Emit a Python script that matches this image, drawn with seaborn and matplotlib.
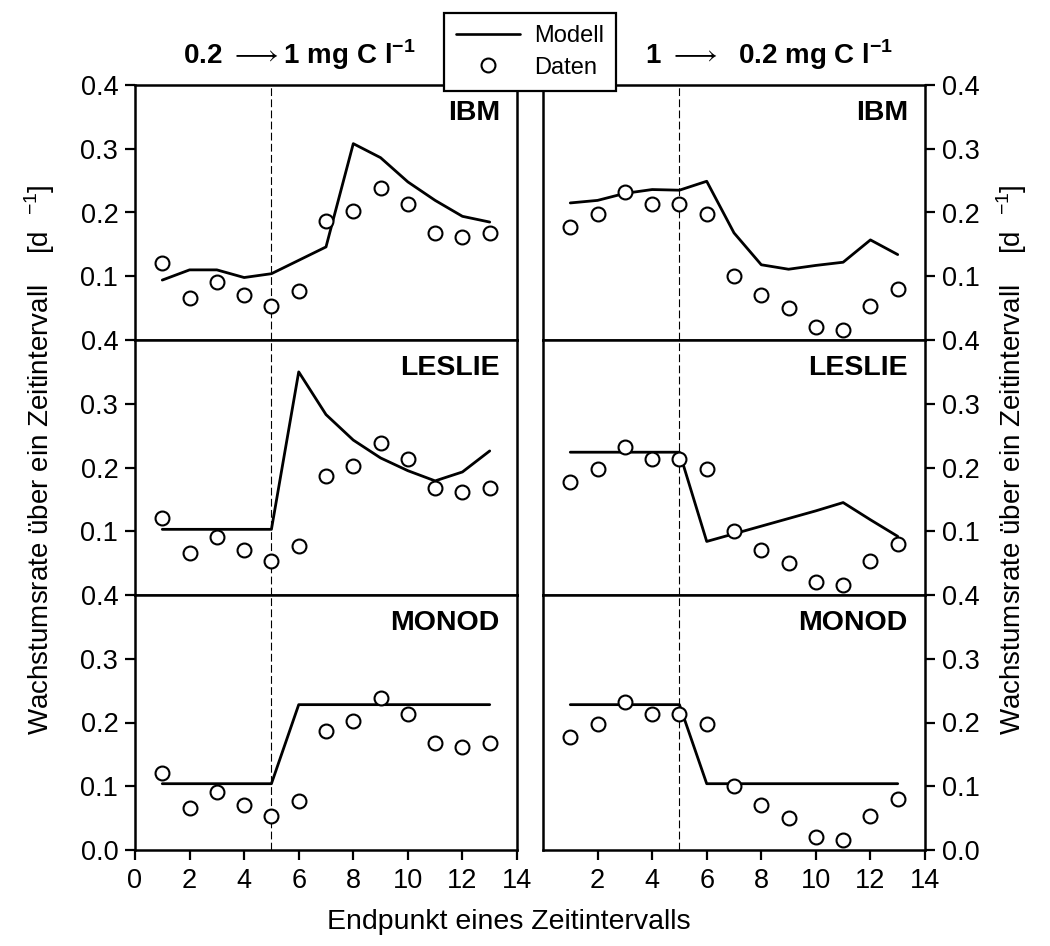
import pandas as pd
import matplotlib
matplotlib.use("Agg")
import matplotlib.pyplot as plt
import seaborn as sns
from matplotlib.lines import Line2D

# Zeitpunkte (Endpunkt eines Zeitintervalls)
t = list(range(1, 14))

# Messdaten
daten_links = [0.121, 0.066, 0.091, 0.070, 0.054, 0.077, 0.186, 0.203, 0.238, 0.214, 0.168, 0.162, 0.168]
daten_rechts = [0.177, 0.197, 0.232, 0.214, 0.214, 0.197, 0.101, 0.070, 0.050, 0.020, 0.016, 0.054, 0.080]

# Modelle, Wechsel 0.2 -> 1 mg C/l
ibm_links = [0.094, 0.110, 0.110, 0.098, 0.104, 0.125, 0.146, 0.308, 0.286, 0.248, 0.219, 0.194, 0.185]
leslie_links = [0.103, 0.103, 0.103, 0.103, 0.103, 0.350, 0.283, 0.243, 0.215, 0.195, 0.179, 0.193, 0.226]
monod_links = [0.104, 0.104, 0.104, 0.104, 0.104, 0.228, 0.228, 0.228, 0.228, 0.228, 0.228, 0.228, 0.228]

# Modelle, Wechsel 1 -> 0.2 mg C/l
ibm_rechts = [0.215, 0.219, 0.230, 0.236, 0.235, 0.249, 0.168, 0.118, 0.111, 0.117, 0.122, 0.157, 0.134]
leslie_rechts = [0.224, 0.224, 0.224, 0.224, 0.224, 0.084, 0.096, 0.108, 0.120, 0.132, 0.145, 0.118, 0.092]
monod_rechts = [0.228, 0.228, 0.228, 0.228, 0.228, 0.104, 0.104, 0.104, 0.104, 0.104, 0.104, 0.104, 0.104]

modelle = ["IBM", "LESLIE", "MONOD"]
spalten = [
    (daten_links, [ibm_links, leslie_links, monod_links]),
    (daten_rechts, [ibm_rechts, leslie_rechts, monod_rechts]),
]

sns.set_theme(style="ticks")
plt.rcParams.update({
    "font.family": ["Liberation Sans", "DejaVu Sans"],
    "mathtext.fontset": "custom",
    "mathtext.rm": "Liberation Sans",
    "mathtext.bf": "Liberation Sans:bold",
    "text.color": "black",
    "axes.labelcolor": "black",
    "xtick.color": "black",
    "ytick.color": "black",
})

fig = plt.figure(figsize=(10.5, 9.46), dpi=100)

x0 = [135 / 1050, 543 / 1050]
breite = 382 / 1050
hoehe = 255 / 946
y0 = [1 - 340 / 946, 1 - 595 / 946, 1 - 850 / 946]

for j, (daten, modell_werte) in enumerate(spalten):
    for i, name in enumerate(modelle):
        ax = fig.add_axes([x0[j], y0[i], breite, hoehe])
        df = pd.DataFrame({"t": t, "modell": modell_werte[i], "daten": daten})

        ax.axvline(5, color="black", lw=0.8, ls=(0, (7, 3)), zorder=1)
        sns.lineplot(data=df, x="t", y="modell", ax=ax, color="black", lw=2.0, zorder=2)
        sns.scatterplot(data=df, x="t", y="daten", ax=ax, marker="o", s=100,
                        facecolor="white", edgecolor="black", linewidth=1.5, zorder=3)

        ax.set_xlim(0, 14)
        ax.set_ylim(0, 0.4)
        ax.set_xlabel("")
        ax.set_ylabel("")
        for sp in ax.spines.values():
            sp.set_visible(True)
            sp.set_linewidth(1.8)
            sp.set_color("black")

        if i == 2:
            ax.set_yticks([0.0, 0.1, 0.2, 0.3, 0.4])
        else:
            ax.set_yticks([0.1, 0.2, 0.3, 0.4])
        ax.set_yticklabels([f"{v:.1f}" for v in ax.get_yticks()])

        if i == 2:
            ax.set_xticks([0, 2, 4, 6, 8, 10, 12, 14] if j == 0 else [2, 4, 6, 8, 10, 12, 14])
            ax.tick_params(axis="x", direction="out", length=7, width=1.6, labelsize=19.5, pad=6)
        else:
            ax.set_xticks([])

        if j == 0:
            ax.tick_params(axis="y", direction="out", length=7, width=1.6, labelsize=19.5,
                           left=True, right=False, labelleft=True, labelright=False, pad=5)
        else:
            ax.tick_params(axis="y", direction="out", length=7, width=1.6, labelsize=19.5,
                           left=False, right=True, labelleft=False, labelright=True, pad=5)

        ax.text(0.955, 0.94, name, transform=ax.transAxes, ha="right", va="top",
                fontsize=20.5, fontweight="bold")
        ax.set_facecolor("white")

# Spaltentitel
fig.text(299 / 1050, 1 - 55 / 946, r"0.2 $\longrightarrow$1 mg C l$^{\mathbf{-1}}$",
         ha="center", va="center", fontsize=20, fontweight="bold")
fig.text(769 / 1050, 1 - 55 / 946, r"1 $\longrightarrow$  0.2 mg C l$^{\mathbf{-1}}$",
         ha="center", va="center", fontsize=20, fontweight="bold")

# Achsentitel
ylab = r"Wachstumsrate über ein Zeitintervall    [d  $^{-1}$]"
fig.text(40 / 1050, 1 - 460 / 946, ylab, rotation=90, ha="center", va="center", fontsize=20)
fig.text(1012 / 1050, 1 - 460 / 946, ylab, rotation=90, ha="center", va="center", fontsize=20)
fig.text(509 / 1050, 1 - 922 / 946, "Endpunkt eines Zeitintervalls", ha="center", va="center",
         fontsize=20.5)

# Legende
handles = [
    Line2D([], [], color="black", lw=1.9),
    Line2D([], [], color="black", marker="o", ls="none", markersize=10,
           markerfacecolor="white", markeredgewidth=1.5),
]
leg = fig.legend(handles, ["Modell", "Daten"], loc="center", bbox_to_anchor=(530 / 1050, 1 - 52 / 946),
                 fontsize=17, frameon=True, fancybox=False, edgecolor="black", handlelength=2.7,
                 borderpad=0.5, labelspacing=0.4, handletextpad=0.6, framealpha=1)
leg.get_frame().set_linewidth(1.6)
leg.set_zorder(10)

fig.savefig("out.png", dpi=100, facecolor="white")
